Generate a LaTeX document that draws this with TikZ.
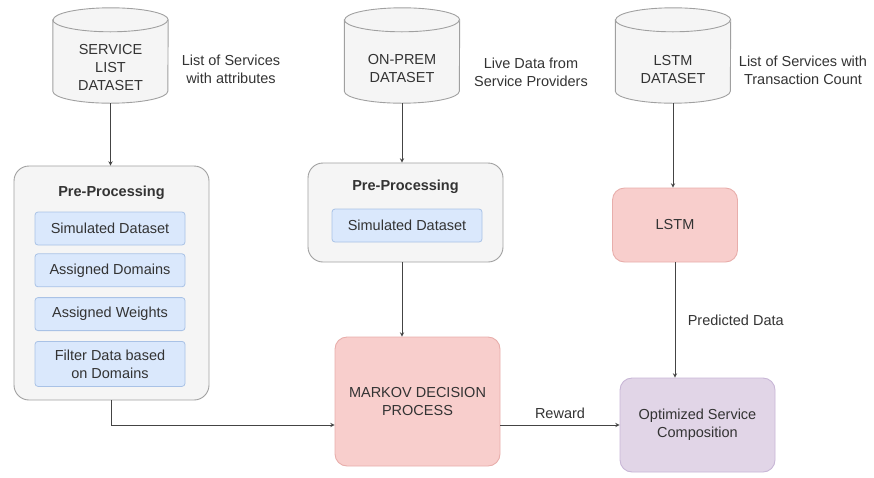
\documentclass[tikz,border=0pt]{standalone}
\usepackage{fontspec}
\setmainfont{Liberation Sans}
\usetikzlibrary{shapes, arrows, positioning}

\definecolor{linegray}{HTML}{444444}
\definecolor{txtgray}{HTML}{333333}
\definecolor{dbfill}{HTML}{F5F5F5}
\definecolor{dbline}{HTML}{A0A0A0}
\definecolor{bluefill}{HTML}{DAE8FC}
\definecolor{blueline}{HTML}{A9C2E6}
\definecolor{redfill}{HTML}{F8CECC}
\definecolor{redline}{HTML}{E8AEAB}
\definecolor{purplefill}{HTML}{E1D5E7}
\definecolor{purpleline}{HTML}{C8B6D6}

\tikzset{
  base/.style={font=\fontsize{14.5}{18}\selectfont, text=txtgray, align=center},
  title/.style={base, font=\fontsize{14.5}{18}\selectfont\bfseries},
  dbbox/.style={minimum width=115pt, minimum height=95pt, inner sep=0pt},
  dbline/.style={draw=dbline, fill=dbfill, line width=0.9pt},
  group/.style={draw=dbline, fill=dbfill, line width=0.9pt, rounded corners=15pt, minimum width=195pt},
  sub/.style={base, draw=blueline, fill=bluefill, line width=0.8pt, rounded corners=3pt,
    minimum width=150pt, minimum height=33pt, inner sep=2pt},
  redbox/.style={base, draw=redline, fill=redfill, line width=0.9pt, rounded corners=12pt},
  purplebox/.style={base, draw=purpleline, fill=purplefill, line width=0.9pt, rounded corners=12pt},
  conn/.style={draw=linegray, line width=0.9pt, ->}
}

% 圆柱（数据库）外形，画在同名节点周围
\newcommand{\dbcyl}[1]{%
  \path[dbline] ([yshift=-12pt]#1.north west) -- ([yshift=12pt]#1.south west)
    arc[start angle=180, end angle=360, x radius=57.5pt, y radius=12pt]
    -- ([yshift=-12pt]#1.north east)
    arc[start angle=0, end angle=180, x radius=57.5pt, y radius=12pt] -- cycle;
  \draw[draw=dbline, line width=0.9pt] ([yshift=-12pt]#1.north west)
    arc[start angle=180, end angle=360, x radius=57.5pt, y radius=12pt];}

\begin{document}
\begin{tikzpicture}[x=1pt, y=-1pt, >=stealth]
    \useasboundingbox (0,0) rectangle (874,477);
    % 节点
    \node[dbbox] (ds1) at (110.5,55.5) {};
    \node[dbbox] (ds2) at (402,55.5) {};
    \node[dbbox] (ds3) at (673,55.5) {};
    \dbcyl{ds1}
    \dbcyl{ds2}
    \dbcyl{ds3}
    \node[base] (ds1txt) at (110.5,68) {SERVICE\\LIST\\DATASET};
    \node[base] (ds2txt) at (402,69) {ON-PREM\\DATASET};
    \node[base] (ds3txt) at (673,70) {LSTM\\DATASET};

    \node[group, minimum height=234pt] (pre1) at (111.5,283) {};
    \node[title] (pre1t) at (111.5,193) {Pre-Processing};
    \node[sub] (sim1) at (110,228.5) {Simulated Dataset};
    \node[sub, below=8pt of sim1] (dom1) {Assigned Domains};
    \node[sub, below=10pt of dom1] (wt1) {Assigned Weights};
    \node[sub, below=10pt of wt1, minimum height=45pt] (flt1) {Filter Data based\\on Domains};

    \node[group, minimum height=99pt] (pre2) at (405.5,212.5) {};
    \node[title] (pre2t) at (405.5,187) {Pre-Processing};
    \node[sub] (sim2) at (407,225.5) {Simulated Dataset};

    \node[redbox, minimum width=125pt, minimum height=74pt] (lstm) at (675,225) {LSTM};
    \node[redbox, minimum width=165pt, minimum height=129pt] (mdp) at (417.5,401.5) {MARKOV DECISION\\PROCESS};
    \node[purplebox, minimum width=155pt, minimum height=94pt] (opt) at (697.5,425) {Optimized Service\\Composition};
    % 连接
    \draw[conn] (ds1.south) -- (ds1.south |- pre1.north);
    \draw[conn] (ds2.south) -- (ds2.south |- pre2.north);
    \draw[conn] (ds3.south) -- (ds3.south |- lstm.north);
    \draw[conn] (ds2.south |- pre2.south) -- (ds2.south |- mdp.north);
    \draw[conn] (pre1.south) |- (mdp.west |- opt.west);
    \draw[conn] (mdp.east |- opt.west) -- (opt.west) node[base, midway, above=3pt] (rew) {Reward};
    \draw[conn] (lstm.south) -- (lstm.south |- opt.north) node[base, midway, right=9pt] (pred) {Predicted Data};
    % 标注
    \node[base] (n1) at (231,69) {List of Services\\with attributes};
    \node[base] (n2) at (531,72) {Live Data from\\Service Providers};
    \node[base] (n3) at (803,70) {List of Services with\\Transaction Count};
\end{tikzpicture}
\end{document}
